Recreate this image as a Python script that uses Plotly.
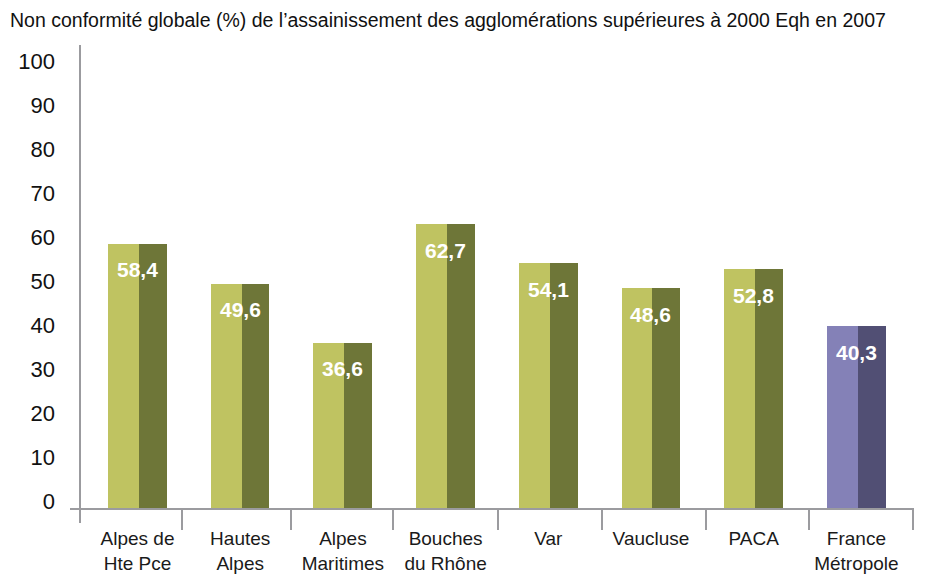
import plotly.graph_objects as go

# ---- data ----
categories = ["Alpes de<br>Hte Pce", "Hautes<br>Alpes", "Alpes<br>Maritimes", "Bouches<br>du Rhône",
              "Var", "Vaucluse", "PACA", "France<br>Métropole"]
values = [58.4, 49.6, 36.6, 62.7, 54.1, 48.6, 52.8, 40.3]
value_labels = ["58,4", "49,6", "36,6", "62,7", "54,1", "48,6", "52,8", "40,3"]
y_ticks = [0, 10, 20, 30, 40, 50, 60, 70, 80, 90, 100]
title = "Non conformité globale (%) de l’assainissement des agglomérations supérieures à 2000 Eqh en 2007"

# ---- styling ----
light = ["#bfc361"] * 7 + ["#8481b7"]
dark = ["#6e7638"] * 7 + ["#514f74"]
SANS = "Liberation Sans, Arial, sans-serif"

W, H = 925, 576
L, R, T, B = 80, 11, 55, 67
pw, ph = W - L - R, H - T - B

x = list(range(len(categories)))

fig = go.Figure()
fig.add_trace(go.Bar(x=x, y=values, width=0.30, offset=-0.287, marker=dict(color=light, line=dict(width=0)),
                     hoverinfo="skip", showlegend=False))
fig.add_trace(go.Bar(x=x, y=values, width=0.272, offset=0.013, marker=dict(color=dark, line=dict(width=0)),
                     hoverinfo="skip", showlegend=False))
# invisible trace to carry the tick-label axis
fig.add_trace(go.Scatter(x=[0], y=[0], yaxis="y2", mode="markers", marker=dict(opacity=0),
                         hoverinfo="skip", showlegend=False))

for xi, v, t in zip(x, values, value_labels):
    fig.add_annotation(x=xi, y=v, text="<b>%s</b>" % t, showarrow=False, yshift=-26,
                       yanchor="middle", xanchor="center",
                       font=dict(family=SANS, size=21, color="white"))

# axis lines & separators (pixel -> paper)
def px(p):
    return (p - L) / pw

def py(p):
    return (H - B - p) / ph

line_col = "#9b9b9f"
fig.add_shape(type="line", xref="paper", yref="paper", x0=0, x1=0, y0=py(523), y1=py(45),
              line=dict(color=line_col, width=2))
fig.add_shape(type="line", xref="paper", yref="paper", x0=px(70), x1=1, y0=0, y1=0,
              line=dict(color=line_col, width=2))
for tp in [182, 291, 393, 498, 602, 706, 809, 913]:
    fig.add_shape(type="line", xref="paper", yref="paper", x0=px(tp), x1=px(tp), y0=0, y1=py(530),
                  line=dict(color=line_col, width=2))

fig.update_layout(
    width=W, height=H,
    margin=dict(l=L, r=R, t=T, b=B, autoexpand=False),
    paper_bgcolor="white", plot_bgcolor="white",
    barmode="overlay",
    bargap=0,
    xaxis=dict(range=[-0.560, 7.561], tickmode="array", tickvals=x, ticktext=categories,
               showgrid=False, zeroline=False, showline=False, ticks="",
               tickfont=dict(family=SANS, size=19, color="#1a1a1a"), ticklabelstandoff=16),
    yaxis=dict(range=[0, 100], showgrid=False, zeroline=False, showline=False,
               showticklabels=False, ticks=""),
    yaxis2=dict(range=[-1.82, 101.36], overlaying="y", side="left", tickmode="array",
                tickvals=y_ticks, showgrid=False, zeroline=False, showline=False, ticks="",
                tickfont=dict(family=SANS, size=22, color="#111"), ticklabelstandoff=24),
    annotations=list(fig.layout.annotations) + [
        dict(text=title, xref="paper", yref="paper", x=px(8), y=py(20), xanchor="left",
             yanchor="middle", showarrow=False,
             font=dict(family=SANS, size=19.5, color="#111"))
    ],
)

fig.write_html("out.html", config={"displayModeBar": False},
               post_script="document.body.style.margin='0';")
